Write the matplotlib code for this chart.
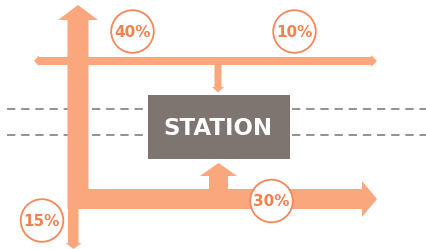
import matplotlib
matplotlib.use("Agg")
import matplotlib.pyplot as plt
from matplotlib.patches import Polygon, Circle, Rectangle

# ---- content ----
shares = ["40%", "10%", "15%", "30%"]
station_label = "STATION"

# ---- layout (pixel coordinates, y down) ----
share_centers = [(132.5, 31.5), (294.5, 31.5), (42, 220.5), (271.5, 201)]
circle_r = 21.3

ORANGE = "#FBA77D"
EDGE = "#F5875A"
TEXT_OR = "#F3804F"
BOX = "#7E7470"
DASH = "#7F7F7F"

W, H = 427, 249
fig = plt.figure(figsize=(W / 100, H / 100), dpi=100)
ax = fig.add_axes([0, 0, 1, 1])
ax.set_xlim(0, W)
ax.set_ylim(H, 0)
ax.axis("off")

# dashed lines
for y in (109, 135):
    ax.plot([7, 148], [y, y], color=DASH, lw=1.2, ls=(0, (5, 3.5)), zorder=1)
    ax.plot([292, 427], [y, y], color=DASH, lw=1.2, ls=(0, (5, 3.5)), zorder=1)

def poly(pts, z=2):
    ax.add_patch(Polygon(pts, closed=True, facecolor=ORANGE, edgecolor="none", zorder=z))

# big vertical up arrow
poly([(67.5, 209), (67.5, 20), (58, 20), (78, 5), (98, 20), (88.5, 20), (88.5, 209)])
# lower narrow down arrow
poly([(68, 205), (68, 243), (65.5, 243), (73.5, 249), (81.5, 243), (78.5, 243), (78.5, 205)])
# lower horizontal right arrow
poly([(68, 189), (362, 189), (362, 181), (377, 199), (362, 217), (362, 209), (68, 209)])
# upper horizontal double arrow
poly([(39, 57), (371, 57), (371, 55), (377, 61), (371, 67), (371, 65),
      (39, 65), (39, 66), (34, 61), (39, 55.5)])
# small down arrow into station
poly([(214.5, 60), (214.5, 87), (212, 87), (218, 92.5), (224, 87), (221.5, 87), (221.5, 60)])
# up arrow into station
poly([(209, 190), (209, 176), (200, 176), (218.5, 163), (237, 176), (228, 176), (228, 190)])

# station box
ax.add_patch(Rectangle((148, 95), 142, 64, facecolor=BOX, edgecolor="none", zorder=3))
ax.text(218, 128, station_label, color="white", fontsize=16.5, fontweight="bold",
        ha="center", va="center", family="DejaVu Sans", zorder=4)

# share circles
for (cx, cy), s in zip(share_centers, shares):
    ax.add_patch(Circle((cx, cy), circle_r, facecolor="white", edgecolor=EDGE, lw=1.3, zorder=5))
    ax.text(cx, cy + 0.5, s, color=TEXT_OR, fontsize=11, fontweight="bold",
            ha="center", va="center", family="DejaVu Sans", zorder=6)

fig.savefig("out.png", dpi=100)
